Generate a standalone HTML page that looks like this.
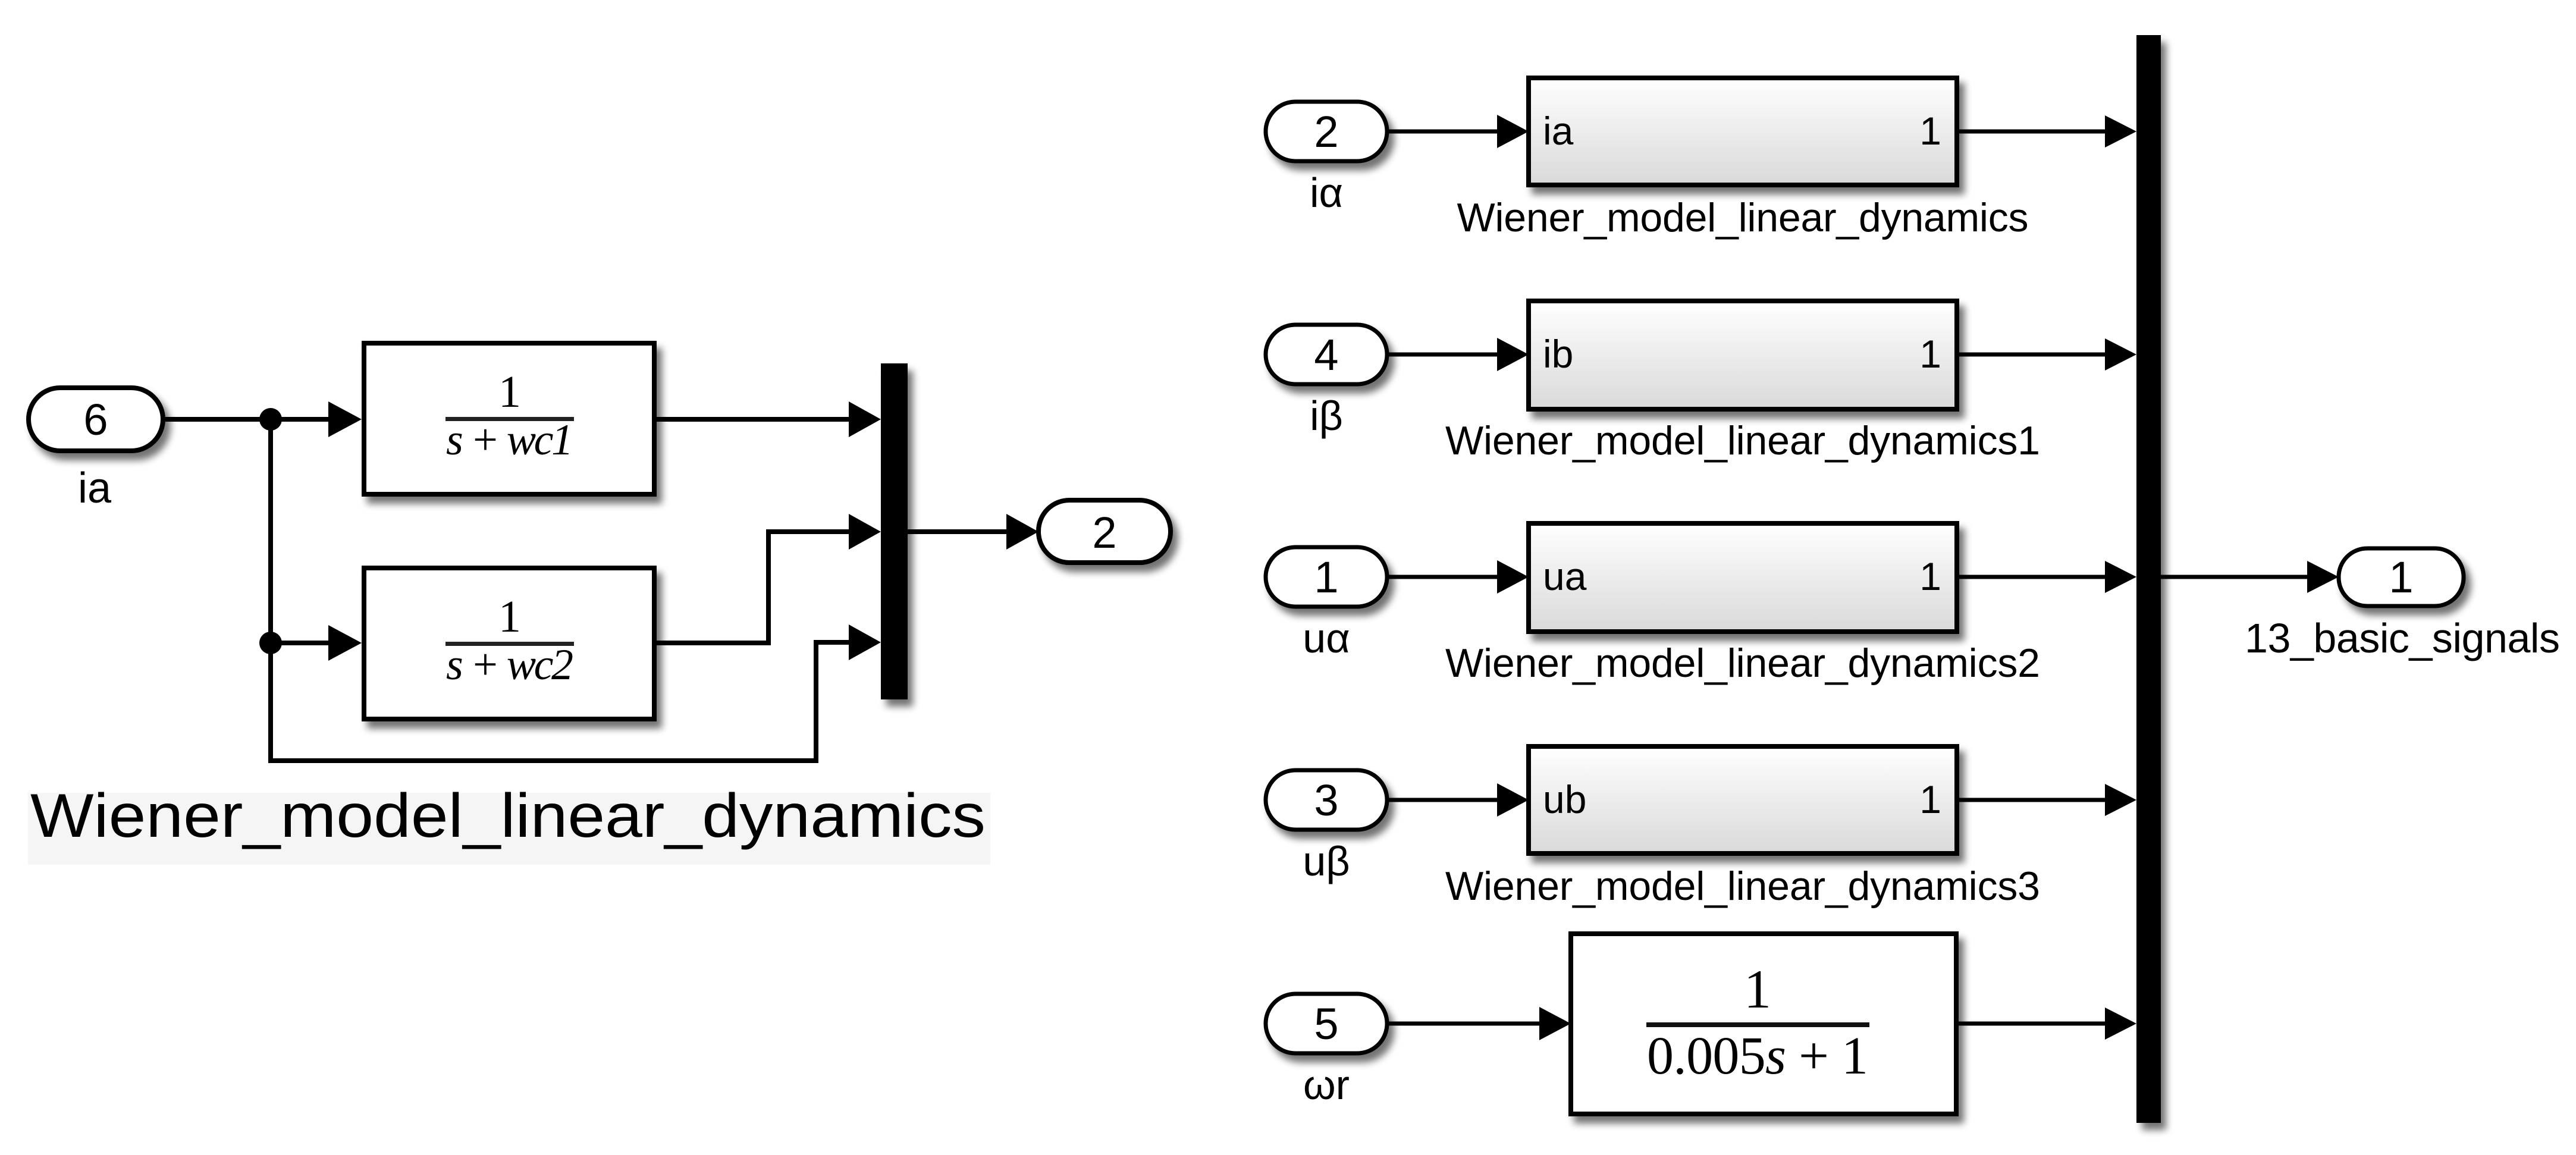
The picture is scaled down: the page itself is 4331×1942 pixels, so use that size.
<!DOCTYPE html>
<html><head><meta charset="utf-8"><style>
html,body{margin:0;padding:0;background:#fff;}
svg{display:block;}
text{font-family:"Liberation Sans",sans-serif;fill:#000;}
.ser{font-family:"Liberation Serif",serif;}
</style></head><body>
<svg width="4331" height="1942" viewBox="0 0 4331 1942" xmlns="http://www.w3.org/2000/svg">
<defs>
<filter id="sh" x="-10%" y="-10%" width="130%" height="140%">
<feGaussianBlur in="SourceAlpha" stdDeviation="6"/>
<feOffset dx="9" dy="12" result="b"/>
<feComponentTransfer><feFuncA type="linear" slope="0.55"/></feComponentTransfer>
<feMerge><feMergeNode/><feMergeNode in="SourceGraphic"/></feMerge>
</filter>
<linearGradient id="g" x1="0" y1="0" x2="0" y2="1">
<stop offset="0" stop-color="#ffffff"/><stop offset="1" stop-color="#d9d9d9"/>
</linearGradient>
</defs>

<!-- LEFT -->
<g stroke="#000" stroke-width="8" fill="none">
<line x1="274" y1="705" x2="560" y2="705"/>
<polyline points="455,705 455,1279 1372,1279 1372,1080 1435,1080"/>
<line x1="455" y1="1081" x2="560" y2="1081"/>
<line x1="1100" y1="705" x2="1435" y2="705"/>
<polyline points="1100,1081 1292,1081 1292,894 1435,894"/>
<line x1="1526" y1="894" x2="1700" y2="894"/>
</g>
<circle cx="455" cy="705" r="19"/>
<circle cx="455" cy="1081" r="19"/>
<g fill="#000">
<polygon points="552,675 608,705 552,735"/>
<polygon points="552,1051 608,1081 552,1111"/>
<polygon points="1427,675 1481,705 1427,735"/>
<polygon points="1427,864 1481,894 1427,924"/>
<polygon points="1427,1050 1481,1080 1427,1110"/>
<polygon points="1692,864 1746,894 1692,924"/>
</g>
<g filter="url(#sh)">
<rect x="48" y="652" width="226" height="106" rx="53" fill="#fff" stroke="#000" stroke-width="8"/>
<rect x="612" y="577" width="488" height="254" fill="#fff" stroke="#000" stroke-width="8"/>
<rect x="612" y="955" width="488" height="254" fill="#fff" stroke="#000" stroke-width="8"/>
<rect x="1481" y="611" width="45" height="565" fill="#000"/>
<rect x="1746" y="841" width="222" height="105" rx="52" fill="#fff" stroke="#000" stroke-width="8"/>
</g>
<text x="161" y="731" font-size="74" text-anchor="middle">6</text>
<text x="159" y="845" font-size="72" text-anchor="middle">ia</text>
<text x="1857" y="921" font-size="74" text-anchor="middle">2</text>
<text class="ser" x="857" y="684" font-size="76" text-anchor="middle">1</text>
<rect x="749" y="701" width="216" height="7" fill="#222"/>
<text class="ser" x="857" y="764" font-size="74" text-anchor="middle" font-style="italic" textLength="214">s + wc1</text>
<text class="ser" x="857" y="1062" font-size="76" text-anchor="middle">1</text>
<rect x="749" y="1079" width="216" height="7" fill="#222"/>
<text class="ser" x="857" y="1142" font-size="74" text-anchor="middle" font-style="italic" textLength="214">s + wc2</text>
<rect x="47" y="1333" width="1618" height="121" fill="#f5f5f5"/>
<text x="51" y="1407" font-size="104" textLength="1606" lengthAdjust="spacingAndGlyphs">Wiener_model_linear_dynamics</text>

<!-- RIGHT -->
<g stroke="#000" stroke-width="7" fill="none">
<line x1="2332" y1="221" x2="2530" y2="221"/>
<line x1="2332" y1="596" x2="2530" y2="596"/>
<line x1="2332" y1="970" x2="2530" y2="970"/>
<line x1="2332" y1="1345" x2="2530" y2="1345"/>
<line x1="2332" y1="1721" x2="2600" y2="1721"/>
<line x1="3290" y1="221" x2="3550" y2="221"/>
<line x1="3290" y1="596" x2="3550" y2="596"/>
<line x1="3290" y1="970" x2="3550" y2="970"/>
<line x1="3290" y1="1345" x2="3550" y2="1345"/>
<line x1="3290" y1="1721" x2="3550" y2="1721"/>
<line x1="3633" y1="970" x2="3890" y2="970"/>
</g>
<g fill="#000">
<polygon points="2517,193 2570,221 2517,249"/>
<polygon points="2517,568 2570,596 2517,624"/>
<polygon points="2517,942 2570,970 2517,998"/>
<polygon points="2517,1317 2570,1345 2517,1373"/>
<polygon points="2588,1693 2641,1721 2588,1749"/>
<polygon points="3539,194 3592,221 3539,248"/>
<polygon points="3539,569 3592,596 3539,623"/>
<polygon points="3539,943 3592,970 3539,997"/>
<polygon points="3539,1318 3592,1345 3539,1372"/>
<polygon points="3539,1694 3592,1721 3539,1748"/>
<polygon points="3879,943 3932,970 3879,997"/>
</g>
<g filter="url(#sh)" stroke="#000" stroke-width="7">
<rect x="2128" y="171" width="204" height="100" rx="50" fill="#fff"/>
<rect x="2128" y="546" width="204" height="100" rx="50" fill="#fff"/>
<rect x="2128" y="920" width="204" height="100" rx="50" fill="#fff"/>
<rect x="2128" y="1295" width="204" height="100" rx="50" fill="#fff"/>
<rect x="2128" y="1671" width="204" height="100" rx="50" fill="#fff"/>
<rect x="2570" y="131" width="720" height="180" fill="url(#g)" stroke-width="8"/>
<rect x="2570" y="506" width="720" height="182" fill="url(#g)" stroke-width="8"/>
<rect x="2570" y="880" width="720" height="182" fill="url(#g)" stroke-width="8"/>
<rect x="2570" y="1255" width="720" height="180" fill="url(#g)" stroke-width="8"/>
<rect x="2641" y="1570" width="648" height="303" fill="#fff" stroke-width="8"/>
<rect x="3592" y="59" width="41" height="1829" fill="#000" stroke="none"/>
<rect x="3932" y="922" width="210" height="97" rx="48" fill="#fff"/>
</g>
<g font-size="74" text-anchor="middle">
<text x="2230" y="247">2</text>
<text x="2230" y="622">4</text>
<text x="2230" y="996">1</text>
<text x="2230" y="1371">3</text>
<text x="2230" y="1747">5</text>
<text x="4037" y="996">1</text>
</g>
<g font-size="70" text-anchor="middle">
<text x="2230" y="348">iα</text>
<text x="2230" y="723">iβ</text>
<text x="2230" y="1097">uα</text>
<text x="2230" y="1472">uβ</text>
<text x="2230" y="1848">ωr</text>
<text x="4039" y="1097" textLength="530">13_basic_signals</text>
</g>
<g font-size="66">
<text x="2594" y="243">ia</text>
<text x="2594" y="618">ib</text>
<text x="2594" y="992">ua</text>
<text x="2594" y="1367">ub</text>
</g>
<g font-size="66" text-anchor="end">
<text x="3264" y="243">1</text>
<text x="3264" y="618">1</text>
<text x="3264" y="992">1</text>
<text x="3264" y="1367">1</text>
</g>
<g font-size="68" text-anchor="middle">
<text x="2930" y="389" textLength="961">Wiener_model_linear_dynamics</text>
<text x="2930" y="764" textLength="1000">Wiener_model_linear_dynamics1</text>
<text x="2930" y="1138" textLength="1000">Wiener_model_linear_dynamics2</text>
<text x="2930" y="1513" textLength="1000">Wiener_model_linear_dynamics3</text>
</g>
<text class="ser" x="2955" y="1694" font-size="92" text-anchor="middle">1</text>
<rect x="2768" y="1719" width="375" height="8" fill="#111"/>
<text class="ser" x="2955" y="1805" font-size="90" text-anchor="middle" textLength="372">0.005<tspan font-style="italic">s</tspan> + 1</text>
</svg>
</body></html>
